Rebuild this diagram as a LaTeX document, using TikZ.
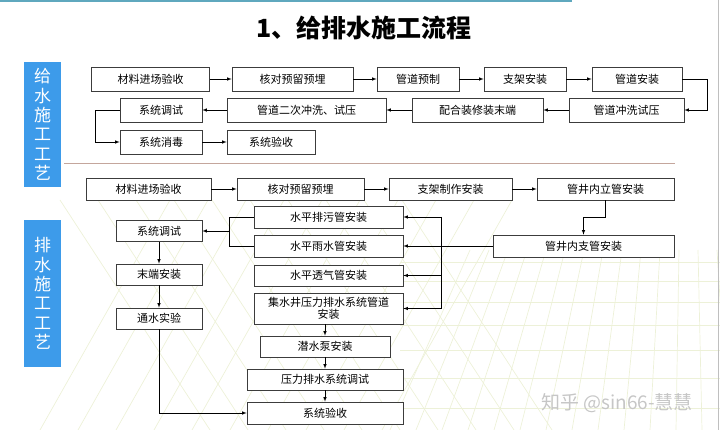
\documentclass[tikz,border=0pt]{standalone}
\usepackage{fontspec}
\setmainfont{Noto Sans CJK SC}
\usepackage{tikz}
\usetikzlibrary{calc}
\usetikzlibrary{positioning}

\definecolor{sideBlue}{HTML}{3D9BEA}
\definecolor{boxLine}{HTML}{3C3C3C}
\definecolor{topBar}{HTML}{5FA8BE}
\definecolor{sepLine}{HTML}{C4A69C}
\definecolor{gridGreen}{HTML}{EDF1D8}

\tikzset{
  procBox/.style 2 args={
    draw=boxLine, fill=white, line width=0.7pt,
    rectangle, inner sep=0pt, align=center,
    minimum width=#1pt, minimum height=#2pt,
    font=\fontsize{11}{12.5}\selectfont
  }
}

\begin{document}
\begin{tikzpicture}[
  x=1pt, y=-1pt,
  sideLabel/.style={fill=sideBlue, text=white, inner sep=0pt, align=center,
    minimum width=37pt, font=\fontsize{17}{19.4}\selectfont},
  flowLine/.style={draw=black, line width=0.6pt},
  flowArrow/.style={draw=black, line width=0.6pt, -latex},
  gridLine/.style={draw=gridGreen, line width=0.7pt},
]
\useasboundingbox (0,0) rectangle (720,430);

% background grid
\foreach \gx in {0,...,13} {
  \draw[gridLine] (390+\gx*26, 430) -- (470+\gx*19, 250);
}
\foreach \gy in {262,281,302,325,350,378,408} {
  \draw[gridLine] (400,\gy) -- (720,\gy);
}
\foreach \d in {0,...,9} {
  \draw[gridLine] (40+\d*38,430) -- (170+\d*38,200);
  \draw[gridLine] (60+\d*38,200) -- (210+\d*38,430);
}

% frame
\draw[line width=2.5pt, topBar] (0,1) -- (572,1);
\draw[gray!50, line width=0.6pt] (718,0) -- (718,430);

% title
\node[font=\fontsize{25}{28}\selectfont\bfseries] (title) at (364,28) {1、给排水施工流程};

% side labels
\node[sideLabel, minimum height=125pt] (supLabel) at (42.5,124.5) {给\\水\\施\\工\\工\\艺};
\node[sideLabel, minimum height=147pt] (drnLabel) at (42.5,293.5) {排\\水\\施\\工\\工\\艺};

\draw[sepLine, line width=1pt] (64,164) -- (675,164);

% --- water supply ---
\node[procBox={118}{24}] (supMat) at (150.5,79) {材料进场验收};
\node[procBox={121}{24}] (supCheck) at (292.5,79) {核对预留预埋};
\node[procBox={82}{24}] (supPrefab) at (418,79) {管道预制};
\node[procBox={82}{24}] (supBracket) at (525,79) {支架安装};
\node[procBox={90}{24}] (supInstall) at (637,79) {管道安装};

\node[procBox={82}{24}] (supDebug) at (161,110) {系统调试};
\node[procBox={159}{24}] (supFlushTwo) at (306.5,110) {管道二次冲洗、试压};
\node[procBox={131}{24}] (supEnd) at (477.5,110) {配合装修装末端};
\node[procBox={115}{24}] (supFlush) at (626.5,110) {管道冲洗试压};

\node[procBox={82}{24}] (supDisinf) at (161,142) {系统消毒};
\node[procBox={88}{24}] (supAccept) at (271,142) {系统验收};

\draw[flowArrow] (supMat) -- (supCheck);
\draw[flowArrow] (supCheck) -- (supPrefab);
\draw[flowArrow] (supPrefab) -- (supBracket);
\draw[flowArrow] (supBracket) -- (supInstall);
\draw[flowArrow] (supInstall.east) -- ++(25,0) |- (supFlush.east);
\draw[flowArrow] (supFlush) -- (supEnd);
\draw[flowArrow] (supEnd) -- (supFlushTwo);
\draw[flowArrow] (supFlushTwo) -- (supDebug);
\draw[flowArrow] (supDebug.west) -- ++(-24,0) |- (supDisinf.west);
\draw[flowArrow] (supDisinf) -- (supAccept);

% --- drainage ---
\node[procBox={125}{22}] (drnMat) at (148.5,189) {材料进场验收};
\node[procBox={127}{22}] (drnCheck) at (300.5,189) {核对预留预埋};
\node[procBox={123}{22}] (drnBracket) at (450.5,189) {支架制作安装};
\node[procBox={137}{22}] (drnRiser) at (605.5,189) {管井内立管安装};
\node[procBox={181}{22}] (drnBranch) at (583.5,246) {管井内支管安装};

\node[procBox={149}{22}] (drnSewage) at (328.5,217) {水平排污管安装};
\node[procBox={149}{22}] (drnRain) at (328.5,246) {水平雨水管安装};
\node[procBox={149}{21}] (drnVent) at (328.5,275.5) {水平透气管安装};
\node[procBox={149}{31}] (drnSump) at (328.5,308.5) {集水井压力排水系统管道\\安装};
\node[procBox={130}{21}] (drnPump) at (325,346.5) {潜水泵安装};
\node[procBox={156}{21}] (drnPress) at (325,379.5) {压力排水系统调试};
\node[procBox={156}{22}] (drnAccept) at (325,413) {系统验收};

\node[procBox={86}{21}] (drnDebug) at (159,231) {系统调试};
\node[procBox={86}{21}] (drnEnd) at (159,274.5) {末端安装};
\node[procBox={86}{21}] (drnWater) at (159,318.5) {通水实验};

\coordinate (drnJoin) at (441,217);
\coordinate (drnMerge) at (229,231);

\draw[flowArrow] (drnMat) -- (drnCheck);
\draw[flowArrow] (drnCheck) -- (drnBracket);
\draw[flowArrow] (drnBracket) -- (drnRiser);
\draw[flowArrow] (drnRiser.south) -- ++(0,17) -| (drnBranch.north);

\draw[flowLine] (drnBranch.west) -- (drnBranch.west -| drnJoin);
\draw[flowLine] (drnJoin) -- (drnJoin |- drnSump.east);
\foreach \tgt in {drnSewage,drnRain,drnVent,drnSump} {
  \draw[flowArrow] (\tgt.east -| drnJoin) -- (\tgt.east);
}

\draw[flowLine] (drnSewage.west) -- (drnSewage.west -| drnMerge) |- (drnRain.west);
\draw[flowArrow] (drnMerge) -- (drnDebug.east);
\draw[flowArrow] (drnDebug) -- (drnEnd);
\draw[flowArrow] (drnEnd) -- (drnWater);
\draw[flowArrow] (drnWater.south) |- (drnAccept.west);

\draw[flowArrow] (drnSump.south -| drnPump.north) -- (drnPump.north);
\draw[flowArrow] (drnPump) -- (drnPress);
\draw[flowArrow] (drnPress) -- (drnAccept);

% watermark
\node[font=\fontsize{19}{21}\selectfont, text=gray!45] (mark) at (617,403) {知乎 @sin66-慧慧};

\end{tikzpicture}
\end{document}
